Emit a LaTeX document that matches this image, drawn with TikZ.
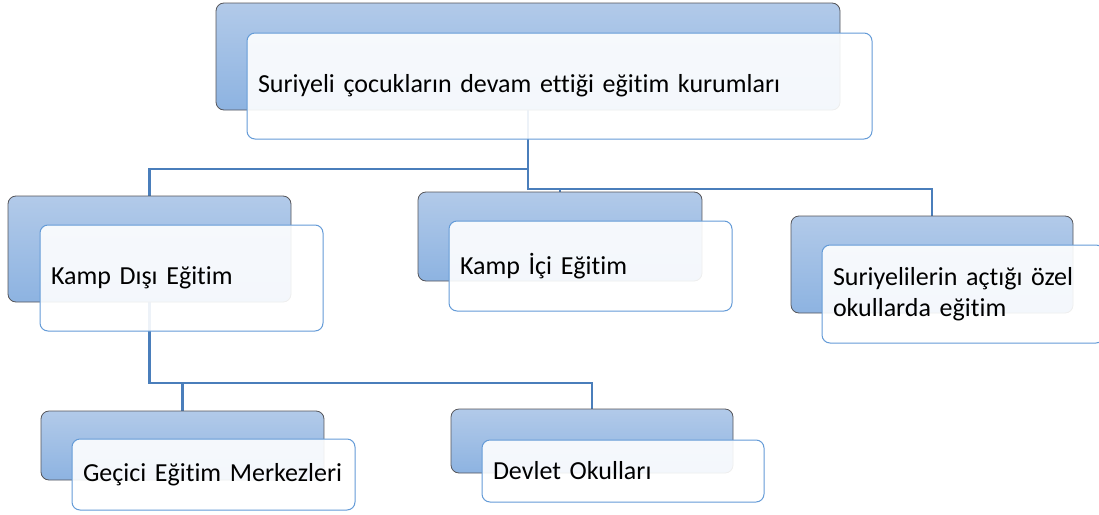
\documentclass[tikz,border=0pt]{standalone}
\usepackage{fontspec}
\setmainfont{Carlito}[Ligatures=NoCommon]
\usetikzlibrary{backgrounds}
\definecolor{conncol}{RGB}{74,126,187}
\definecolor{backtop}{RGB}{178,202,233}
\definecolor{backbot}{RGB}{141,179,225}
\definecolor{backline}{RGB}{85,85,90}
\definecolor{frontline}{RGB}{100,155,215}
\tikzset{
  conn/.style={draw=conncol, line width=2.6pt},
  backbox/.style={draw=backline, line width=0.8pt, rounded corners=8pt,
    top color=backtop, bottom color=backbot, inner sep=0pt},
  frontbox/.style={draw=frontline, line width=1pt, rounded corners=8pt,
    fill=white, fill opacity=0.9, text opacity=1, inner xsep=11pt, inner ysep=0pt,
    align=left, font=\fontsize{26}{31}\selectfont, text=black}
}
\begin{document}
\begin{tikzpicture}[x=1pt,y=-1pt]
\useasboundingbox (0,0) rectangle (1099,514);
\coordinate (bus1) at (0,169);
\coordinate (bus2) at (0,189);
\coordinate (bus3) at (0,383);
% back boxes
\node[backbox, minimum width=624pt, minimum height=107pt] (topb) at (528,56.5) {};
\node[backbox, minimum width=283pt, minimum height=106pt] (kdb) at (149.5,249) {};
\node[backbox, minimum width=284pt, minimum height=89pt] (kib) at (560,236.5) {};
\node[backbox, minimum width=282pt, minimum height=97pt] (sob) at (932,264.5) {};
\node[backbox, minimum width=283pt, minimum height=69pt] (gcb) at (182.5,445.5) {};
\node[backbox, minimum width=282pt, minimum height=64pt] (dvb) at (592,441) {};
% connectors behind the boxes
\begin{scope}[on background layer]
\draw[conn] (topb.center) -- (topb.center |- bus1) -| (kdb.north);
\draw[conn] (topb.center) -- (topb.center |- bus2) -| (sob.north);
\draw[conn] (topb.center |- bus2) -| (kib.north);
\draw[conn] (kdb.center) -- (kdb.center |- bus3) -| (gcb.north);
\draw[conn] (kdb.center |- bus3) -| (dvb.north);
\end{scope}
% front boxes
\node[frontbox, text width=603pt, minimum height=106pt] (topf) at (559.5,86) {Suriyeli çocukların devam ettiği eğitim kurumları};
\node[frontbox, text width=261pt, minimum height=106pt] (kdf) at (181.5,278) {Kamp Dışı Eğitim};
\node[frontbox, text width=261pt, minimum height=90pt] (kif) at (590.5,266) {Kamp İçi Eğitim};
\node[frontbox, text width=260pt, minimum height=98pt] (sof) at (963,294) {Suriyelilerin açtığı özel\\okullarda eğitim};
\node[frontbox, text width=261pt, minimum height=71pt] (gcf) at (213.5,474.5) {Geçici Eğitim Merkezleri};
\node[frontbox, text width=260pt, minimum height=62pt] (dvf) at (623,471) {Devlet Okulları};
\end{tikzpicture}
\end{document}
